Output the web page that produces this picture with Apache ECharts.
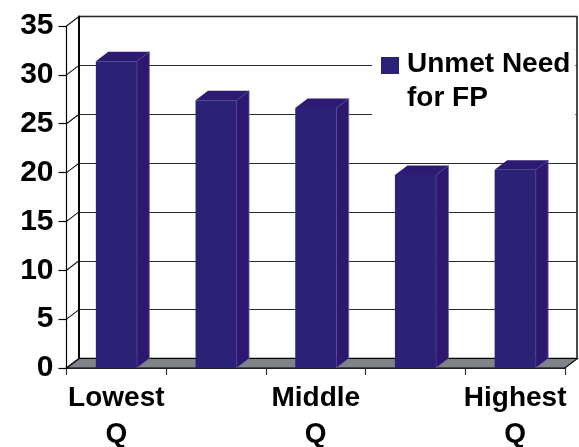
<!DOCTYPE html>
<html><head><meta charset="utf-8">
<style>html,body{margin:0;padding:0;background:#fff}#c{width:579px;height:447px}</style>
<script src="https://cdn.jsdelivr.net/npm/echarts@6/dist/echarts.min.js"></script>
</head><body><div id="c"></div>
<script>
const categories = ['Lowest\nQ', '', 'Middle\nQ', '', 'Highest\nQ'];
const unmetNeed = [31.4, 27.4, 26.6, 19.75, 20.3];
const yTicks = [0, 5, 10, 15, 20, 25, 30, 35];
const seriesName = 'Unmet Need\nfor FP';

const DX = 12.5, DY = -9.5, BAR = 41;
const FONT = '"Liberation Sans", Arial, sans-serif';
const chart = echarts.init(document.getElementById('c'), null, {renderer: 'canvas'});

function frameItem(params, api) {
  const cs = params.coordSys;
  const p = api.coord([0, api.value(0)]);
  const x0 = cs.x, x1 = cs.x + cs.width, y0 = cs.y + cs.height;
  const children = [];
  if (params.dataIndex === 0) {
    children.push({type: 'polygon', shape: {points: [[x0, y0], [x0 + DX, y0 + DY], [x1 + DX, y0 + DY], [x1, y0]]},
      style: {fill: '#808488', stroke: '#000', lineWidth: 1.2}});
  }
  children.push({type: 'line', shape: {x1: x0, y1: p[1], x2: x0 + DX, y2: p[1] + DY},
    style: {stroke: '#111', lineWidth: 1.1}});
  return {type: 'group', children};
}

function barItem(params, api) {
  const top = api.coord([api.value(0), api.value(1)]);
  const base = api.coord([api.value(0), 0]);
  const l = top[0] - BAR / 2, r = top[0] + BAR / 2, t = top[1], b = base[1];
  return {type: 'group', children: [
    {type: 'polygon', shape: {points: [[r, t], [r + DX, t + DY], [r + DX, b + DY], [r, b]]},
      style: {fill: '#2d176f', stroke: '#6e63ad', lineWidth: 0.8}},
    {type: 'polygon', shape: {points: [[l, t], [l + DX, t + DY], [r + DX, t + DY], [r, t]]},
      style: {fill: '#2d1a72'}},
    {type: 'rect', shape: {x: l, y: t, width: BAR, height: b - t},
      style: {fill: '#2b2277'}}
  ]};
}

chart.setOption({
  animation: false,
  backgroundColor: '#fff',
  grid: [
    {left: 66.5, top: 26, width: 498.5, height: 342, outerBoundsMode: 'none'},
    {left: 79, top: 16.5, width: 498, height: 342, outerBoundsMode: 'none', show: true, borderColor: '#111', borderWidth: 1.5, backgroundColor: '#fff', z: -1}
  ],
  xAxis: [
    {type: 'category', gridIndex: 0, data: categories,
      axisLine: {show: true, lineStyle: {color: '#000', width: 1.5}},
      axisTick: {show: true, length: 7, interval: 0, lineStyle: {color: '#333', width: 1.2}},
      axisLabel: {interval: 0, fontFamily: FONT, fontWeight: 'bold', fontSize: 28, lineHeight: 36, color: '#000', margin: 12}},
    {type: 'category', gridIndex: 1, data: categories, show: false}
  ],
  yAxis: [
    {type: 'value', gridIndex: 0, min: 0, max: 35, interval: 5,
      splitLine: {show: false},
      axisLine: {show: true, lineStyle: {color: '#000', width: 1.2}},
      axisTick: {show: true, length: 8, lineStyle: {color: '#000', width: 1.2}},
      axisLabel: {fontFamily: FONT, fontWeight: 'bold', fontSize: 30, color: '#000', margin: 13, padding: [4, 0, 0, 0]}},
    {type: 'value', gridIndex: 1, min: 0, max: 35, interval: 5,
      axisLabel: {show: false}, axisTick: {show: false},
      axisLine: {show: true, lineStyle: {color: '#000', width: 1.8}},
      splitLine: {show: true, lineStyle: {width: 1.2, color: '#2a2a2a'}}}
  ],
  legend: {
    show: true, left: 372, top: 34, orient: 'vertical',
    backgroundColor: '#fff',
    padding: [13, 5, 4, 9],
    itemWidth: 18, itemHeight: 48, itemGap: 0,
    selectedMode: false,
    data: [{name: seriesName, icon: 'path://M0 0H18V17H0Z M0 48L18 48'}],
    textStyle: {fontFamily: FONT, fontWeight: 'bold', fontSize: 28, lineHeight: 34, color: '#000', padding: [0, 0, 0, 3]}
  },
  series: [
    {type: 'custom', name: 'frame', xAxisIndex: 0, yAxisIndex: 0, z: 1, silent: true,
      data: yTicks.map(v => [v]), renderItem: frameItem, encode: {y: 0}, clip: false},
    {type: 'custom', name: seriesName, xAxisIndex: 0, yAxisIndex: 0, z: 2, silent: true,
      itemStyle: {color: '#2b2277'},
      data: unmetNeed.map((v, i) => [i, v]), renderItem: barItem, encode: {x: 0, y: 1}, clip: false}
  ]
});
</script></body></html>
